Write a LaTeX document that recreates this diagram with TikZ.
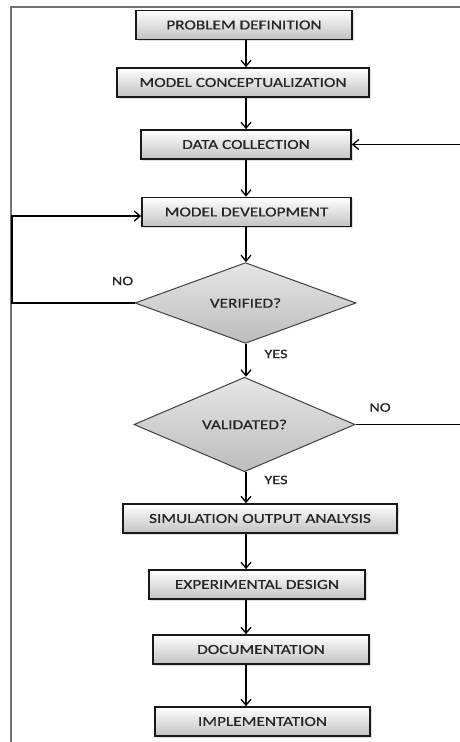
\documentclass[tikz,border=0pt]{standalone}
\usepackage{fontspec}
\setmainfont{Carlito}[FakeStretch=1.25,FakeBold=0.7]
\usetikzlibrary{shapes.geometric,arrows.meta,shadows}

\begin{document}
\begin{tikzpicture}[x=1pt,y=-1pt,
        stage/.style={draw=black!90, line width=1.6pt, top color=white, bottom color=black!24,
            minimum height=29pt, inner sep=0pt, text=black!85, font=\fontsize{13.8}{16}\selectfont,
            drop shadow={opacity=0.25, shadow xshift=1.5pt, shadow yshift=-1.5pt}},
        check/.style={diamond, draw=black!75, line width=1pt, top color=black!10, bottom color=black!26,
            minimum width=221pt, minimum height=68pt, inner sep=0pt, text=black!85,
            font=\fontsize{13.8}{16}\selectfont},
        flow/.style={-{Straight Barb[length=6pt,width=10pt]}, line width=1.3pt},
        tag/.style={font=\fontsize{13}{15}\selectfont, text=black!85}]
    \useasboundingbox (0,0) rectangle (460,742);
    % page frame
    \draw[black!55, line width=1.5pt] (460,7) -- (11,7) -- (11,742);
    % stages
    \node[stage, minimum width=216pt] (prob) at (244,25) {PROBLEM DEFINITION};
    \node[stage, minimum width=252pt] (concept) at (243,82.5) {MODEL CONCEPTUALIZATION};
    \node[stage, minimum width=210pt] (data) at (246,144.5) {DATA COLLECTION};
    \node[stage, minimum width=209pt] (devel) at (246.5,212) {MODEL DEVELOPMENT};
    \node[check] (verif) at (245.5,303) {VERIFIED?};
    \node[check] (valid) at (244.5,424.5) {VALIDATED?};
    \node[stage, minimum width=274pt] (sim) at (260,518.5) {SIMULATION OUTPUT ANALYSIS};
    \node[stage, minimum width=216pt] (exper) at (257,584.5) {EXPERIMENTAL DESIGN};
    \node[stage, minimum width=216pt] (docu) at (261,649.5) {DOCUMENTATION};
    \node[stage, minimum width=215pt] (impl) at (262.5,721.5) {IMPLEMENTATION};
    % main line
    \coordinate (axis) at (246,0);
    \foreach \a/\b in {prob/concept, concept/data, data/devel, devel/verif, verif/valid,
            valid/sim, sim/exper, exper/docu, docu/impl} {
        \draw[flow] (\a.south -| axis) -- (\b.north -| axis);
    }
    % feedback
    \coordinate (loopbot) at (12,303);
    \coordinate (looptop) at (12,216);
    \draw[flow] (verif.west) -- (loopbot) -- (looptop) -- (devel.west |- looptop);
    \coordinate (datain) at (460,144.5);
    \draw[flow] (datain) -- (data.east);
    \coordinate (validout) at (460,424.5);
    \draw[line width=1.3pt] (valid.east) -- (validout);
    % answers
    \node[tag] (noverif) at (122.5,281) {NO};
    \node[tag] (yesverif) at (276,354) {YES};
    \node[tag] (novalid) at (380,407.5) {NO};
    \node[tag] (yesvalid) at (276,480) {YES};
\end{tikzpicture}
\end{document}
